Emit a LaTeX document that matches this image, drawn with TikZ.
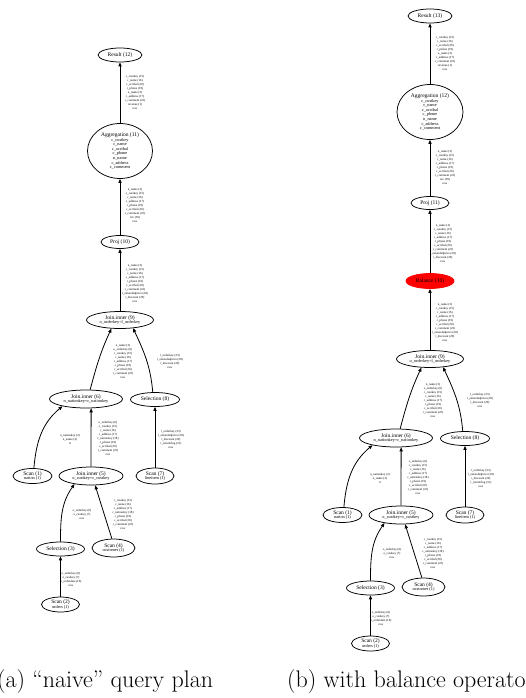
\documentclass[tikz,border=0pt]{standalone}
\usepackage{fontspec}
\newfontfamily\gv{Liberation Serif}
\usetikzlibrary{shapes.geometric,arrows.meta}
\tikzset{
  op/.style={ellipse, draw, line width=0.75pt, inner sep=0pt, align=center,
    font=\gv\fontsize{5.5}{4.6}\selectfont},
  lbl/.style={inner sep=0pt, align=center, font=\gv\fontsize{3.1}{4}\selectfont},
  edge/.style={draw, line width=0.8pt, -{Triangle[length=4pt,width=3.2pt]}},
  captxt/.style={inner sep=0pt, anchor=base west, font=\fontsize{24}{26}\selectfont},
}
\newcommand\sub[1]{{\fontsize{4.3}{4.2}\selectfont #1}}
\newcommand\lowerplan{%
  \node[op, minimum width=67pt, minimum height=17pt] (j9) at (120,320) {Join.inner (9)\\\sub{o\_orderkey=l\_orderkey}};
  \node[op, minimum width=73pt, minimum height=18pt] (j6) at (86,399) {Join.inner (6)\\\sub{n\_nationkey=c\_nationkey}};
  \node[op, minimum width=49pt, minimum height=14pt] (s8) at (155,399.5) {Selection (8)};
  \node[op, minimum width=39pt, minimum height=15pt] (sc1) at (32.5,476) {Scan (1)\\\sub{nation (1)}};
  \node[op, minimum width=64pt, minimum height=18pt] (j5) at (91,476) {Join.inner (5)\\\sub{o\_custkey=c\_custkey}};
  \node[op, minimum width=38pt, minimum height=16pt] (sc7) at (155,476) {Scan (7)\\\sub{lineitem (1)}};
  \node[op, minimum width=48pt, minimum height=14pt] (s3) at (60.5,549) {Selection (3)};
  \node[op, minimum width=43pt, minimum height=18pt] (sc4) at (113.5,548) {Scan (4)\\\sub{customer (1)}};
  \node[op, minimum width=38pt, minimum height=15pt] (sc2) at (60.5,604.5) {Scan (2)\\\sub{orders (1)}};
  \draw[edge] (j6.66) to[out=75,in=245] (j9.225);
  \draw[edge] (s8.107) to[out=95,in=295] (j9.328);
  \draw[edge] (sc1.80) to[out=85,in=220] (j6.197);
  \draw[edge] (j5.90) -- (j6.299);
  \draw[edge] (sc7) -- (s8);
  \draw[edge] (s3.north) to[out=90,in=235] (j5.206);
  \draw[edge] (sc4.100) -- (j5.294);
  \draw[edge] (sc2) -- (s3);
  \node[lbl] (lj9) at (135,283) {n\_name (3)\\c\_custkey (15)\\c\_name (16)\\c\_address (17)\\c\_phone (19)\\c\_acctbal (20)\\c\_comment (22)\\l\_extendedprice (28)\\l\_discount (29)\\row};
  \node[lbl] (lj6) at (123,361.5) {n\_name (3)\\o\_orderkey (6)\\c\_custkey (15)\\c\_name (16)\\c\_address (17)\\c\_phone (19)\\c\_acctbal (20)\\c\_comment (22)\\row};
  \node[lbl] (ls8) at (170,361.5) {l\_orderkey (23)\\l\_extendedprice (28)\\l\_discount (29)\\row};
  \node[lbl] (lsc1) at (70,439) {n\_nationkey (2)\\n\_name (3)\\rr};
  \node[lbl] (lj5) at (108,438) {o\_orderkey (6)\\c\_custkey (15)\\c\_name (16)\\c\_address (17)\\c\_nationkey (18)\\c\_phone (19)\\c\_acctbal (20)\\c\_comment (22)\\row};
  \node[lbl] (lsc7) at (171,439) {l\_orderkey (23)\\l\_extendedprice (28)\\l\_discount (29)\\l\_returnflag (31)\\row};
  \node[lbl] (ls3) at (82,514.5) {o\_orderkey (6)\\o\_custkey (7)\\row};
  \node[lbl] (lsc4) at (123,514.5) {c\_custkey (15)\\c\_name (16)\\c\_address (17)\\c\_nationkey (18)\\c\_phone (19)\\c\_acctbal (20)\\c\_comment (22)\\row};
  \node[lbl] (lsc2) at (71,579) {o\_orderkey (6)\\o\_custkey (7)\\o\_orderdate (10)\\row};
}
\begin{document}
\begin{tikzpicture}[x=1pt,y=-1pt]
\useasboundingbox (0,0) rectangle (526,698);
\clip (0,0) rectangle (526,698);
\fill[white] (0,0) rectangle (526,698);
% ---------- (a) naive plan ----------
\begin{scope}[name prefix=a-]
  \node[op, minimum width=44pt, minimum height=14pt] (r) at (120,55) {Result (12)};
  \node[op, minimum width=65pt, minimum height=55pt] (agg) at (120,151) {Aggregation (11)\\\sub{c\_custkey}\\\sub{c\_name}\\\sub{c\_acctbal}\\\sub{c\_phone}\\\sub{n\_name}\\\sub{c\_address}\\\sub{c\_comment}};
  \node[op, minimum width=38pt, minimum height=13pt] (p) at (120,242) {Proj (10)};
  \lowerplan
  \draw[edge] (agg) -- (r);
  \draw[edge] (p) -- (agg);
  \draw[edge] (j9) -- (p);
  \node[lbl] (lr) at (135,92.5) {c\_custkey (15)\\c\_name (16)\\c\_acctbal (20)\\c\_phone (19)\\n\_name (3)\\c\_address (17)\\c\_comment (22)\\revenue (1)\\row};
  \node[lbl] (la) at (135,205) {n\_name (3)\\c\_custkey (15)\\c\_name (16)\\c\_address (17)\\c\_phone (19)\\c\_acctbal (20)\\c\_comment (22)\\rev (39)\\row};
\end{scope}
% ---------- (b) with balance ----------
\begin{scope}[name prefix=b-]
  \node[op, minimum width=44pt, minimum height=14pt] (r) at (430,16) {Result (13)};
  \node[op, minimum width=66pt, minimum height=55pt] (agg) at (430,112) {Aggregation (12)\\\sub{c\_custkey}\\\sub{c\_name}\\\sub{c\_acctbal}\\\sub{c\_phone}\\\sub{n\_name}\\\sub{c\_address}\\\sub{c\_comment}};
  \node[op, minimum width=38pt, minimum height=13pt] (p) at (430,203) {Proj (11)};
  \node[op, draw=red, fill=red, minimum width=48pt, minimum height=15pt] (bal) at (430,281) {Balance (10)};
  \begin{scope}[shift={(310,39)}]
    \lowerplan
  \end{scope}
  \draw[edge] (agg) -- (r);
  \draw[edge] (p) -- (agg);
  \draw[edge] (bal) -- (p);
  \draw[edge] (j9) -- (bal);
  \node[lbl] (lr) at (445,53.5) {c\_custkey (15)\\c\_name (16)\\c\_acctbal (20)\\c\_phone (19)\\n\_name (3)\\c\_address (17)\\c\_comment (22)\\revenue (1)\\row};
  \node[lbl] (la) at (445,167) {n\_name (3)\\c\_custkey (15)\\c\_name (16)\\c\_address (17)\\c\_phone (19)\\c\_acctbal (20)\\c\_comment (22)\\rev (39)\\row};
  \node[lbl] (lb) at (443,243.5) {n\_name (3)\\c\_custkey (15)\\c\_name (16)\\c\_address (17)\\c\_phone (19)\\c\_acctbal (20)\\c\_comment (22)\\l\_extendedprice (28)\\l\_discount (29)\\row};
\end{scope}
% ---------- captions ----------
\node[captxt] (capa) at (-3,687) {(a) “naive” query plan};
\node[captxt] (capb) at (287,687) {(b) with balance operator};
\end{tikzpicture}
\end{document}
